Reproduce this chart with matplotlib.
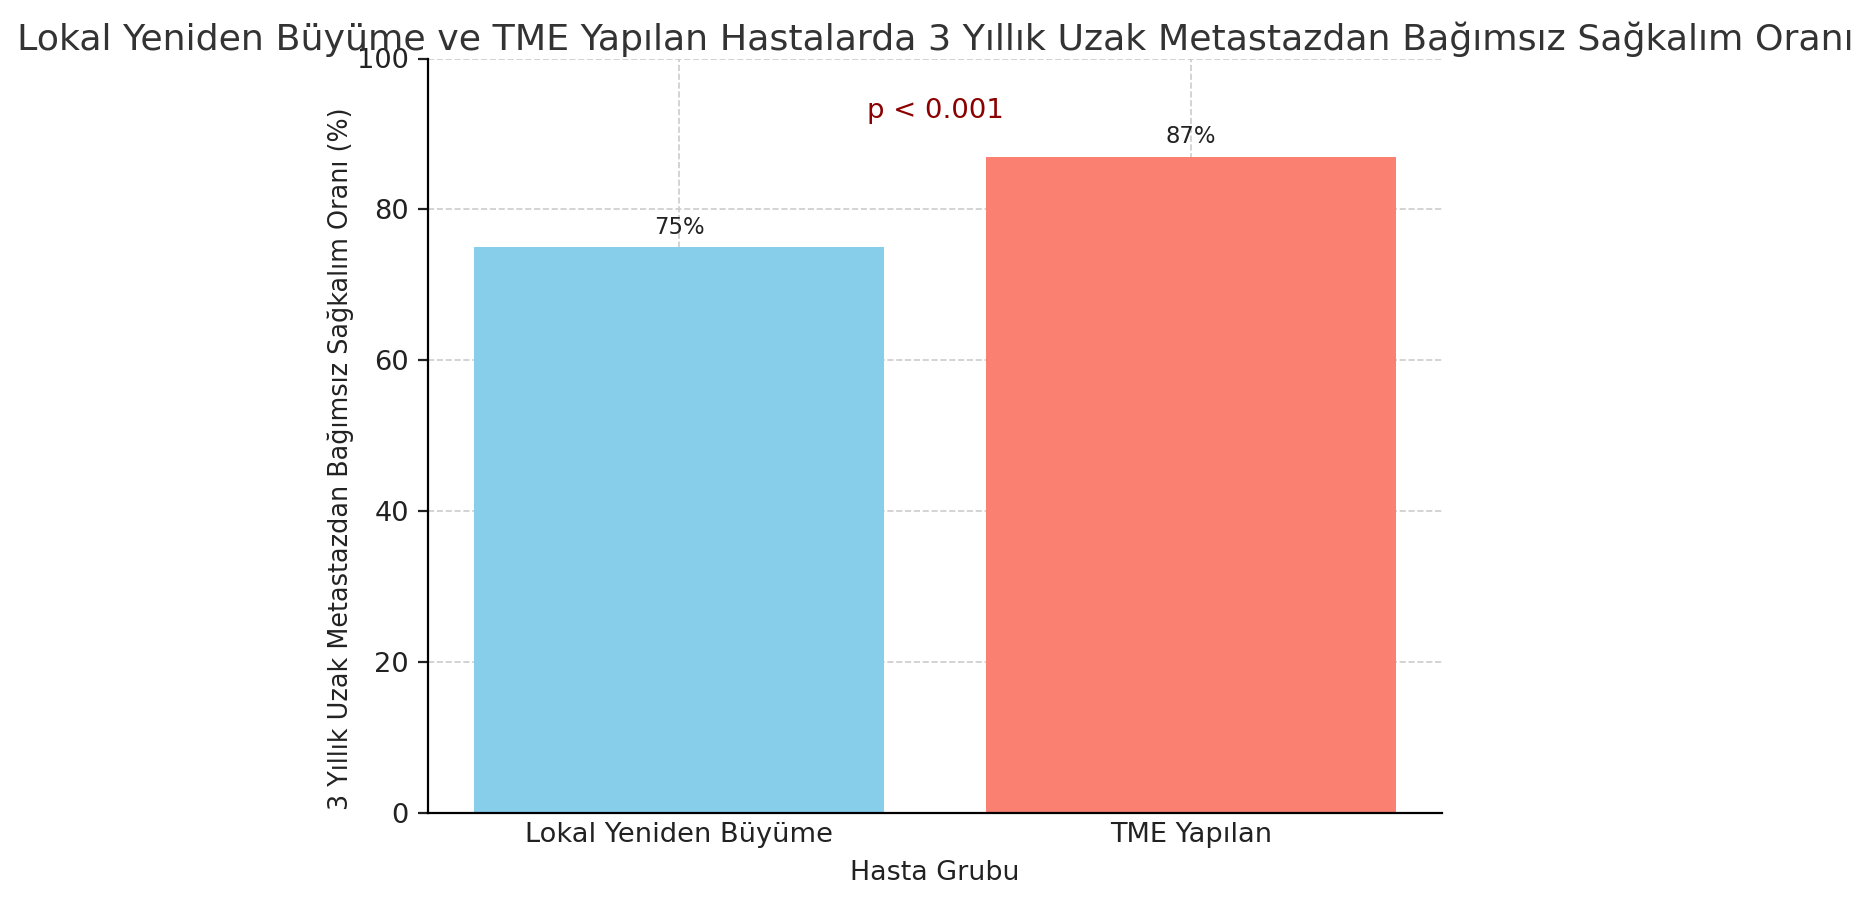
import matplotlib.pyplot as plt

groups = ["Lokal Yeniden Büyüme", "TME Yapılan"]
rates = [75, 87]
bar_labels = ["75%", "87%"]
colors = ["skyblue", "salmon"]
yticks = [0, 20, 40, 60, 80, 100]

fig = plt.figure(figsize=(9.35, 4.5), dpi=200)
ax = fig.add_axes([0.229, 0.097, 0.542, 0.838])

bars = ax.bar(groups, rates, color=colors, width=0.8, zorder=2)
for b, lab in zip(bars, bar_labels):
    ax.annotate(lab, (b.get_x() + b.get_width() / 2, b.get_height()),
                xytext=(0, 3), textcoords="offset points",
                ha="center", va="bottom", fontsize=8.2, color="#222222")

ax.text(0.5, 93, "p < 0.001", ha="center", va="center",
        fontsize=9.9, color="darkred")

ax.set_ylim(0, 100)
ax.set_yticks(yticks)
ax.set_title("Lokal Yeniden Büyüme ve TME Yapılan Hastalarda 3 Yıllık Uzak Metastazdan Bağımsız Sağkalım Oranı",
             fontsize=13.1, color="#333333", pad=3)
ax.set_xlabel("Hasta Grubu", fontsize=9.7, color="#222222")
ax.set_ylabel("3 Yıllık Uzak Metastazdan Bağımsız Sağkalım Oranı (%)", fontsize=9.2, color="#222222")
ax.yaxis.set_label_coords(-0.073, 0.47)
ax.tick_params(axis="both", labelsize=9.8, colors="#222222")
ax.tick_params(axis="x", direction="in")
ax.grid(True, linestyle="--", color="#cccccc", linewidth=0.6, zorder=0)
ax.spines["top"].set_visible(False)
ax.spines["right"].set_visible(False)

fig.savefig("out.png", dpi=200)
